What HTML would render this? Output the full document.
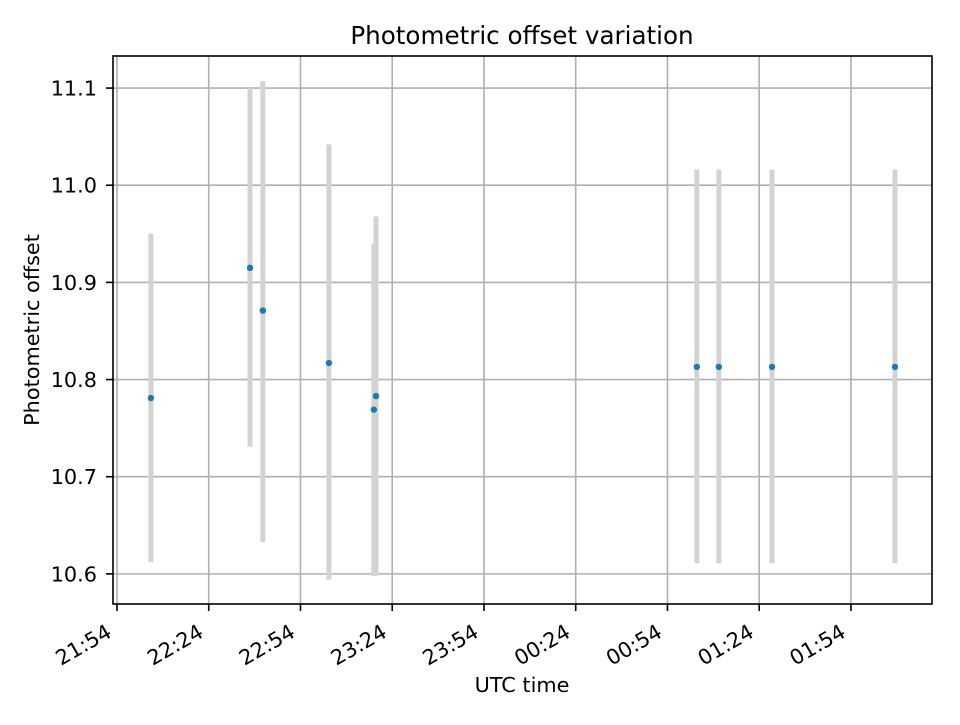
<!DOCTYPE html>
<html><head><meta charset="utf-8"><style>
body{margin:0;background:#fff;}
svg text{font-family:"DejaVu Sans","Liberation Sans",sans-serif;fill:#000;}
</style></head><body>
<svg id="chart" width="960" height="720" xmlns="http://www.w3.org/2000/svg">
<rect width="960" height="720" fill="#fff"/>
<text x="522" y="44" font-size="24.6" text-anchor="middle">Photometric offset variation</text>
<g id="grid"></g>
<g id="errs"></g>
<g id="pts"></g>
<rect x="113" y="56" width="819" height="548" fill="none" stroke="#000" stroke-width="1.6"/>
<g id="axes"></g>
<text x="522" y="692" font-size="20.8" text-anchor="middle">UTC time</text>
<text transform="translate(39,330) rotate(-90)" font-size="20.8" text-anchor="middle">Photometric offset</text>
</svg>
<script>
// minutes after 21:54
const times=[11.1,43.5,47.7,69.3,84.0,84.7,189.6,196.8,214.2,254.4];
const offsets=[10.781,10.915,10.871,10.817,10.769,10.783,10.813,10.813,10.813,10.813];
const errLow=[10.612,10.731,10.633,10.594,10.598,10.598,10.611,10.611,10.611,10.611];
const errHigh=[10.950,11.100,11.107,11.042,10.940,10.968,11.016,11.016,11.016,11.016];
const xTickMin=[0,30,60,90,120,150,180,210,240];
const xTickLabels=["21:54","22:24","22:54","23:24","23:54","00:24","00:54","01:24","01:54"];
const yTicks=[10.6,10.7,10.8,10.9,11.0,11.1];
const yTickLabels=["10.6","10.7","10.8","10.9","11.0","11.1"];

const L=113,R=932,T=56,B=604;
const xMin=-1.3,xMax=266.5,yMin=10.569,yMax=11.133;
const sx=v=>L+(v-xMin)/(xMax-xMin)*(R-L);
const sy=v=>B-(v-yMin)/(yMax-yMin)*(B-T);
const NS="http://www.w3.org/2000/svg";
function mk(tag,attrs,parent){const e=document.createElementNS(NS,tag);for(const k in attrs)e.setAttribute(k,attrs[k]);parent.appendChild(e);return e;}
const grid=document.getElementById('grid'),axes=document.getElementById('axes'),errs=document.getElementById('errs'),pts=document.getElementById('pts');
xTickMin.forEach((m,i)=>{
  const x=sx(m);
  const g=mk('line',{x1:x,x2:x,y1:T,y2:B,stroke:'#b0b0b0','stroke-width':1.6},grid);
  
  
  const t=mk('line',{x1:x,x2:x,y1:B,y2:B+7,stroke:'#000','stroke-width':1.6},axes);
  
  
  const ax=x-4,ay=B+32;
  const lb=mk('text',{x:ax,y:ay,'font-size':20.8,'text-anchor':'end',transform:`rotate(-30 ${ax} ${ay})`},axes);
  lb.textContent=xTickLabels[i];
  
  
});
yTicks.forEach((v,i)=>{
  const y=sy(v);
  const g=mk('line',{x1:L,x2:R,y1:y,y2:y,stroke:'#b0b0b0','stroke-width':1.6},grid);
  
  
  const t=mk('line',{x1:L-7,x2:L,y1:y,y2:y,stroke:'#000','stroke-width':1.6},axes);
  
  
  const lb=mk('text',{x:L-16,y:y+7.5,'font-size':20.8,'text-anchor':'end'},axes);
  lb.textContent=yTickLabels[i];
  
  
});
times.forEach((m,i)=>{
  const x=sx(m);
  const e=mk('line',{x1:x,x2:x,y1:sy(errLow[i]),y2:sy(errHigh[i]),stroke:'#d3d3d3','stroke-width':5},errs);
  
  
  const p=mk('circle',{cx:x,cy:sy(offsets[i]),r:3.2,fill:'#1f77b4'},pts);
  
  
});
</script>
</body></html>
